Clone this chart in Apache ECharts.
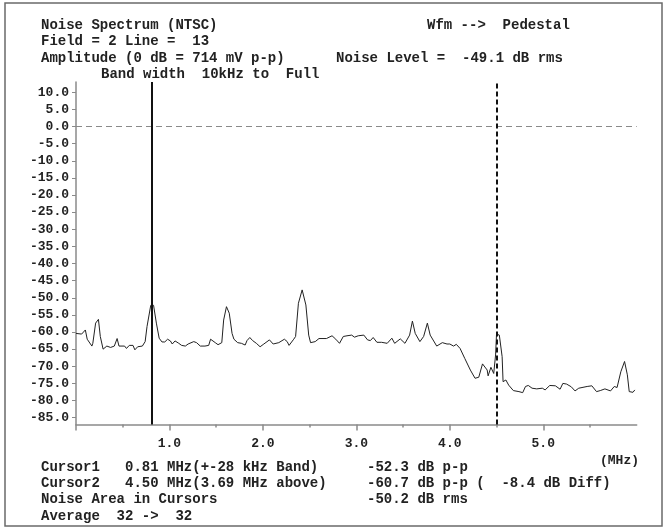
<!DOCTYPE html>
<html>
<head>
<meta charset="utf-8">
<script src="https://cdn.jsdelivr.net/npm/echarts@6/dist/echarts.min.js"></script>
<style>
  html, body { margin: 0; padding: 0; background: #fff; }
  #chart { width: 665px; height: 529px; }
</style>
</head>
<body>
<div id="chart"></div>
<script>
// noise trace (MHz, dB)
const freq = [
  0.00, 0.06, 0.08, 0.10, 0.12, 0.17, 0.18, 0.21, 0.24, 0.26, 0.29, 0.33, 0.37, 0.41, 0.44, 0.46,
  0.52, 0.54, 0.57, 0.61, 0.63, 0.66, 0.71, 0.74, 0.76, 0.80, 0.83, 0.86, 0.89, 0.92, 0.95, 0.98,
  1.01, 1.03, 1.06, 1.10, 1.13, 1.17, 1.20, 1.26, 1.29, 1.33, 1.38, 1.42, 1.44, 1.49, 1.52, 1.56,
  1.58, 1.61, 1.64, 1.67, 1.69, 1.73, 1.77, 1.81, 1.83, 1.86, 1.89, 1.93, 1.97, 2.01, 2.07, 2.11,
  2.17, 2.23, 2.26, 2.28, 2.33, 2.35, 2.38, 2.42, 2.46, 2.49, 2.51, 2.56, 2.60, 2.68, 2.74, 2.78,
  2.82, 2.86, 2.90, 2.95, 2.98, 3.02, 3.08, 3.12, 3.15, 3.18, 3.22, 3.27, 3.33, 3.38, 3.41, 3.47,
  3.52, 3.57, 3.60, 3.63, 3.68, 3.72, 3.76, 3.79, 3.86, 3.92, 3.97, 4.00, 4.04, 4.07, 4.11, 4.16,
  4.22, 4.27, 4.31, 4.35, 4.40, 4.41, 4.44, 4.47, 4.49, 4.50, 4.53, 4.56, 4.57, 4.60, 4.63, 4.68,
  4.74, 4.78, 4.81, 4.84, 4.88, 4.93, 4.99, 5.02, 5.07, 5.13, 5.18, 5.21, 5.25, 5.30, 5.34, 5.38,
  5.47, 5.52, 5.57, 5.61, 5.66, 5.72, 5.76, 5.79, 5.81, 5.83, 5.87, 5.90, 5.92, 5.96, 5.98
];
const level = [
  -60.4, -60.6, -61.0, -59.4, -62.1, -64.1, -63.3, -57.4, -56.3, -61.3, -65.0, -64.1, -64.5, -64.1, -61.9, -64.1,
  -64.1, -64.8, -63.9, -63.9, -65.2, -64.3, -64.1, -62.8, -58.4, -52.2, -52.2, -57.4, -61.8, -62.9, -62.9, -62.1,
  -62.6, -63.5, -62.6, -63.3, -63.9, -64.1, -63.5, -62.8, -63.1, -64.1, -64.1, -63.9, -62.1, -63.1, -63.7, -63.1,
  -56.5, -52.6, -54.5, -60.4, -62.1, -63.1, -63.3, -63.8, -62.5, -61.6, -62.5, -63.3, -64.3, -63.5, -62.3, -63.5,
  -63.1, -62.1, -62.8, -63.9, -62.1, -61.3, -51.6, -47.7, -52.1, -60.9, -63.1, -62.8, -61.9, -61.9, -61.1, -62.1,
  -63.3, -61.3, -61.1, -60.9, -61.5, -61.1, -60.9, -62.3, -62.5, -61.6, -63.0, -63.0, -63.3, -61.8, -63.3, -62.0,
  -63.3, -60.9, -56.8, -60.4, -62.8, -61.3, -57.4, -60.9, -64.1, -63.1, -63.5, -63.5, -64.1, -63.6, -64.8, -67.7,
  -71.1, -73.5, -73.2, -69.3, -71.1, -72.8, -70.3, -72.1, -66.7, -60.6, -60.9, -67.2, -74.5, -74.0, -75.5, -77.1,
  -77.4, -77.7, -75.9, -75.6, -76.4, -76.6, -76.4, -76.9, -75.6, -75.7, -76.7, -75.0, -75.2, -76.0, -77.2, -76.4,
  -75.9, -75.7, -77.4, -77.1, -76.6, -77.2, -75.9, -76.2, -76.4, -71.6, -68.6, -72.5, -77.4, -77.6, -76.9
];
const cursors = [0.81, 4.50];
const yTicks = [10, 5, 0, -5, -10, -15, -20, -25, -30, -35, -40, -45, -50, -55, -60, -65, -70, -75, -80, -85];
const xTicks = [0, 1, 2, 3, 4, 5];
const xLabels = [1, 2, 3, 4, 5];
const xMinor = [0.5, 1.5, 2.5, 3.5, 4.5, 5.5];

const headerLeft = [
  "Noise Spectrum (NTSC)",
  "Field = 2 Line =  13",
  "Amplitude (0 dB = 714 mV p-p)"
];
const bandText = "Band width  10kHz to  Full";
const wfmText = "Wfm -->  Pedestal";
const noiseLevelText = "Noise Level =  -49.1 dB rms";
const footerLeft = [
  "Cursor1   0.81 MHz(+-28 kHz Band)",
  "Cursor2   4.50 MHz(3.69 MHz above)",
  "Noise Area in Cursors",
  "Average  32 ->  32"
];
const footerRight = [
  "-52.3 dB p-p",
  "-60.7 dB p-p (  -8.4 dB Diff)",
  "-50.2 dB rms"
];
const unitText = "(MHz)";

const FONT = 'bold 14px "Liberation Mono", "DejaVu Sans Mono", monospace';
const AXIS = "#8a8a8a";
const INK = "#222";

function txt(text, x, y, font) {
  return {
    type: "text", x: x, y: y, silent: true,
    style: { text: text, font: font || FONT, fill: INK, verticalAlign: "middle", align: "left" }
  };
}

const texts = [];
headerLeft.forEach((t, i) => texts.push(txt(t, 41, 25 + i * 16.5)));
texts.push(txt(bandText, 101, 74.5));
texts.push(txt(wfmText, 427, 25));
texts.push(txt(noiseLevelText, 336, 58));
footerLeft.forEach((t, i) => texts.push(txt(t, 41, 467 + i * 16.4)));
footerRight.forEach((t, i) => texts.push(txt(t, 367, 467 + i * 16.4)));
texts.push(txt(unitText, 600, 461, 'bold 13px "Liberation Mono", monospace'));

const chart = echarts.init(document.getElementById("chart"), null, { renderer: "canvas" });

chart.setOption({
  animation: false,
  backgroundColor: "#fff",
  grid: { left: 76, top: 82, right: 28.3, bottom: 104.5 },
  xAxis: [
    {
      type: "value", min: 0, max: 6, interval: 1,
      axisLine: { onZero: false, lineStyle: { color: AXIS, width: 1.5 } },
      axisTick: { customValues: xTicks, length: 6, lineStyle: { color: AXIS, width: 1.5 } },
      axisLabel: {
        customValues: xLabels, margin: 13, color: INK,
        fontFamily: "Liberation Mono", fontWeight: "bold", fontSize: 13,
        formatter: v => v.toFixed(1)
      },
      splitLine: { show: false }
    },
    {
      type: "value", min: 0, max: 6, interval: 1, position: "bottom",
      axisLine: { show: false, onZero: false },
      axisTick: { customValues: xMinor, length: 3, lineStyle: { color: AXIS, width: 1.5 } },
      axisLabel: { show: false },
      splitLine: { show: false }
    }
  ],
  yAxis: {
    type: "value", min: -87, max: 13,
    axisLine: { show: true, lineStyle: { color: AXIS, width: 1.5 } },
    axisTick: { show: true, customValues: yTicks, length: 4, lineStyle: { color: AXIS, width: 1 } },
    axisLabel: {
      customValues: yTicks, margin: 7, color: INK,
      fontFamily: "Liberation Mono", fontWeight: "bold", fontSize: 13,
      formatter: v => v.toFixed(1)
    },
    splitLine: { show: false }
  },
  graphic: [
    {
      type: "rect", silent: true, z: -1,
      shape: { x: 5, y: 3, width: 657, height: 523 },
      style: { fill: null, stroke: "#6a6a6a", lineWidth: 1.5 }
    }
  ].concat(texts),
  series: [
    {
      type: "line",
      data: freq.map((f, i) => [f, level[i]]),
      showSymbol: false,
      lineStyle: { color: INK, width: 1 },
      z: 3,
      markLine: {
        silent: true, symbol: "none", label: { show: false },
        data: [
          { yAxis: 0, lineStyle: { color: "#8a8a8a", width: 1.2, type: [6, 4] } },
          { xAxis: cursors[0], lineStyle: { color: "#111", width: 2, type: "solid" } },
          { xAxis: cursors[1], lineStyle: { color: "#111", width: 2, type: [5, 3] } }
        ]
      }
    }
  ]
});
</script>
</body>
</html>
